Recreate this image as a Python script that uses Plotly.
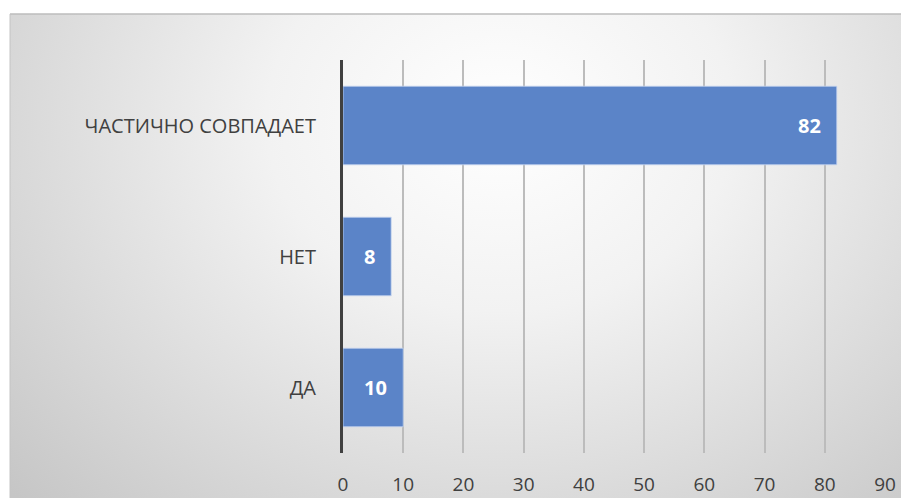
import plotly.graph_objects as go
import base64

categories = ["ДА", "НЕТ", "ЧАСТИЧНО СОВПАДАЕТ"]
values = [10, 8, 82]
x_ticks = [0, 10, 20, 30, 40, 50, 60, 70, 80, 90]

W, H = 901, 498
L, R, T, B = 343, 16, 60, 45
pw, ph = W - L - R, H - T - B

svg = (
    '<svg xmlns="http://www.w3.org/2000/svg" width="891" height="484" '
    'viewBox="0 0 891 484" preserveAspectRatio="none">'
    '<defs><radialGradient id="g" cx="0.55" cy="0.22" r="0.75" '
    'gradientTransform="translate(0.55 0.22) scale(1 1.5) translate(-0.55 -0.22)">'
    '<stop offset="0" stop-color="#ffffff"/>'
    '<stop offset="0.35" stop-color="#f2f2f2"/>'
    '<stop offset="1" stop-color="#c6c6c6"/>'
    '</radialGradient></defs>'
    '<rect x="0" y="0" width="891" height="484" fill="url(#g)"/></svg>'
)
bg_src = "data:image/svg+xml;base64," + base64.b64encode(svg.encode()).decode()

fig = go.Figure()
fig.add_trace(go.Bar(
    y=categories, x=values, orientation="h",
    marker=dict(color="#5b84c8", line=dict(color="rgba(200,215,240,0.8)", width=1)),
    hoverinfo="x+y",
))

for c, v in zip(categories, values):
    fig.add_annotation(
        x=v, y=c, xref="x", yref="y", text=str(v), showarrow=False,
        xanchor="right", xshift=-14,
        font=dict(family="Open Sans", size=20, color="white", weight="bold"),
    )

bx0, by0 = 10, 14
x0 = (bx0 - L) / pw
y0 = (H - B - by0) / ph
fig.add_layout_image(dict(
    source=bg_src, xref="paper", yref="paper",
    x=x0, y=y0, sizex=(W - bx0) / pw, sizey=(H - by0) / ph,
    xanchor="left", yanchor="top", sizing="stretch", layer="below",
))
fig.add_shape(type="line", xref="paper", yref="paper",
              x0=x0, x1=(W - L) / pw, y0=y0, y1=y0,
              line=dict(color="#bdbdbd", width=1.5))
fig.add_shape(type="line", xref="paper", yref="paper",
              x0=x0, x1=x0, y0=y0, y1=-B / ph,
              line=dict(color="#c4c4c4", width=1))

fig.update_layout(
    width=W, height=H,
    margin=dict(l=L, r=R, t=T, b=B, autoexpand=False),
    paper_bgcolor="white", plot_bgcolor="rgba(0,0,0,0)",
    bargap=0.4, showlegend=False,
    font=dict(family="Open Sans", color="#404040", size=19),
    xaxis=dict(range=[0, 90], tickvals=x_ticks, showgrid=True,
               gridcolor="#bcbcbc", gridwidth=1.5, zeroline=False,
               ticklabelstandoff=18, tickfont=dict(size=19, color="#404040"),
               automargin=False, fixedrange=True),
    yaxis=dict(showline=True, linecolor="#404040", linewidth=3,
               showgrid=False, ticklabelstandoff=20, automargin=False,
               tickfont=dict(size=20, color="#404040"), fixedrange=True),
)

fig.write_html("out.html", config={"displayModeBar": False},
               post_script="document.body.style.margin='0';")
